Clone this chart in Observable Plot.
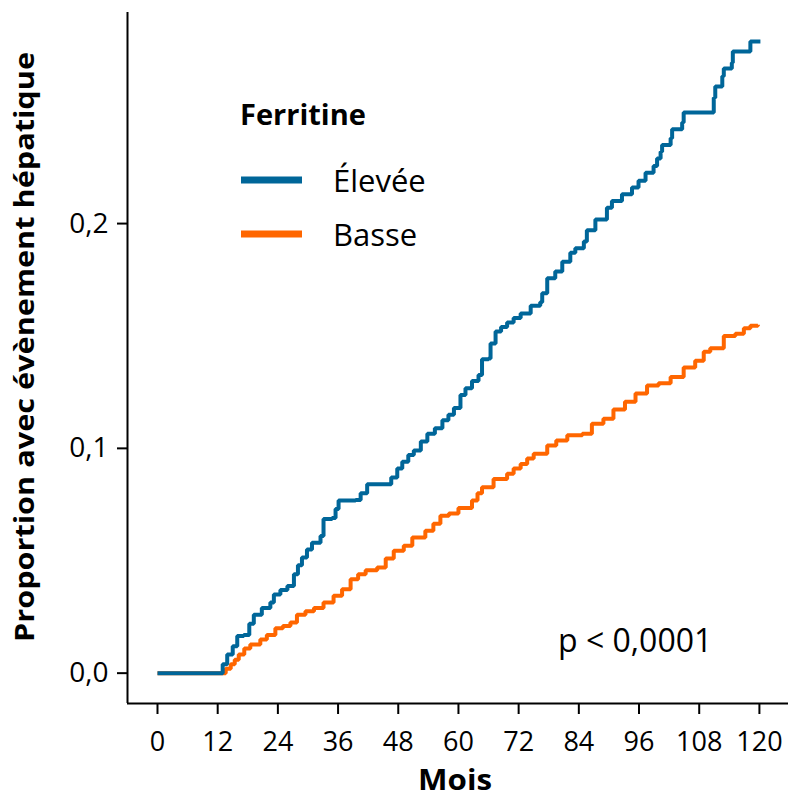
<!DOCTYPE html>
<html>
<head>
<meta charset="utf-8">
<script src="https://cdn.jsdelivr.net/npm/d3@7"></script>
<script src="https://cdn.jsdelivr.net/npm/@observablehq/plot@0.6"></script>
<style>
  html, body { margin: 0; padding: 0; background: #ffffff; }
  #chart { width: 788px; height: 799px; }
</style>
</head>
<body>
<div id="chart"></div>
<script>
// ---- Data ----
const seriesNames = ["Élevée", "Basse"];
const seriesColors = ["#006699", "#ff6600"];

const eleveeMonths = [0, 12.2, 13.0, 13.9, 15.0, 15.9, 17.2, 18.3, 19.2, 20.8, 22.5, 23.2, 24.5, 25.9, 27.2, 28.0, 28.8, 29.8, 30.8, 32.5, 33.1, 34.8, 35.5, 36.1, 39.5, 40.5, 41.8, 46.6, 47.8, 48.8, 50.0, 51.1, 52.5, 53.8, 55.3, 56.8, 58.0, 59.1, 60.4, 61.4, 62.7, 64.0, 64.7, 66.0, 66.4, 67.4, 68.5, 69.7, 71.0, 72.4, 74.4, 76.3, 76.7, 77.7, 79.3, 80.7, 82.3, 83.3, 85.0, 85.6, 87.3, 89.6, 90.6, 92.6, 94.6, 95.9, 97.3, 98.9, 99.6, 100.3, 100.6, 102.3, 102.6, 104.6, 104.9, 110.9, 111.2, 112.6, 112.9, 114.5, 114.7, 118.2, 120.2];
const eleveeValues = [0, 0, 0.004, 0.0083, 0.012, 0.0165, 0.017, 0.022, 0.026, 0.029, 0.0314, 0.035, 0.037, 0.0388, 0.044, 0.048, 0.0515, 0.055, 0.058, 0.061, 0.0686, 0.069, 0.073, 0.0768, 0.077, 0.080, 0.084, 0.087, 0.091, 0.094, 0.097, 0.099, 0.103, 0.1065, 0.109, 0.1125, 0.115, 0.118, 0.1237, 0.1267, 0.130, 0.1326, 0.1396, 0.140, 0.1467, 0.152, 0.154, 0.156, 0.158, 0.160, 0.1634, 0.165, 0.169, 0.1757, 0.1787, 0.183, 0.187, 0.189, 0.192, 0.197, 0.2018, 0.207, 0.210, 0.213, 0.216, 0.219, 0.2226, 0.2256, 0.229, 0.232, 0.235, 0.238, 0.242, 0.245, 0.2494, 0.256, 0.261, 0.2655, 0.269, 0.2716, 0.2765, 0.281, 0.281];

const basseMonths = [0, 12.6, 13.6, 14.6, 15.4, 16.2, 17.3, 18.5, 20.5, 21.8, 23.5, 25.0, 26.5, 27.8, 29.5, 31.2, 33.1, 35.1, 36.8, 38.5, 40.0, 41.5, 43.8, 45.5, 47.1, 49.1, 50.8, 53.4, 55.0, 56.4, 58.1, 60.0, 62.7, 63.8, 64.7, 67.0, 69.7, 71.0, 72.4, 73.7, 75.0, 77.7, 79.5, 81.7, 84.7, 86.6, 88.9, 90.9, 93.2, 95.3, 97.6, 99.9, 102.3, 104.9, 107.2, 108.9, 110.2, 112.9, 115.2, 116.9, 118.2, 119.7];
const basseValues = [0, 0, 0.002, 0.004, 0.006, 0.0083, 0.011, 0.0128, 0.015, 0.017, 0.020, 0.021, 0.0225, 0.026, 0.0275, 0.029, 0.0314, 0.0344, 0.0373, 0.0418, 0.044, 0.0458, 0.047, 0.051, 0.0545, 0.0567, 0.0604, 0.0634, 0.0665, 0.070, 0.071, 0.0735, 0.0768, 0.080, 0.0827, 0.0864, 0.0887, 0.091, 0.0931, 0.0955, 0.0976, 0.1013, 0.1035, 0.1058, 0.1065, 0.111, 0.1132, 0.1173, 0.1207, 0.1244, 0.128, 0.129, 0.1318, 0.136, 0.139, 0.143, 0.1445, 0.150, 0.151, 0.1534, 0.1546, 0.155];

const xTicks = [0, 12, 24, 36, 48, 60, 72, 84, 96, 108, 120];
const yTicks = [0, 0.1, 0.2];
const xDomain = [-5.98, 125.8];
const yDomain = [-0.0135, 0.2939];

const legendTitle = "Ferritine";
const xTitle = "Mois";
const yTitle = "Proportion avec évènement hépatique";
const pText = "p < 0,0001";

// ---- Build tables ----
const elevee = eleveeMonths.map((m, i) => ({month: m, value: eleveeValues[i], group: seriesNames[0]}));
const basse = basseMonths.map((m, i) => ({month: m, value: basseValues[i], group: seriesNames[1]}));

const W = 788, H = 799;
const mL = 127, mR = 0, mT = 12, mB = 96;

const chart = Plot.plot({
  width: W,
  height: H,
  marginLeft: mL,
  marginRight: mR,
  marginTop: mT,
  marginBottom: mB,
  style: {fontFamily: "'Open Sans', sans-serif", fontSize: "27px", color: "#000", background: "#fff", overflow: "visible"},
  x: {domain: xDomain},
  y: {domain: yDomain},
  marks: [
    Plot.axisX({ticks: xTicks, tickSize: 11, tickPadding: 17, tickFormat: d => String(d), label: null, strokeWidth: 2, fontSize: 27}),
    Plot.axisY({ticks: yTicks, tickSize: 10, tickPadding: 9, tickFormat: d => d3.format(".1f")(d).replace(".", ","), label: null, strokeWidth: 2, fontSize: 28}),
    Plot.ruleX([xDomain[0]], {stroke: "#000", strokeWidth: 2}),
    Plot.ruleY([yDomain[0]], {stroke: "#000", strokeWidth: 2}),
    Plot.line(basse, {x: "month", y: "value", curve: "step-after", stroke: seriesColors[1], strokeWidth: 4, strokeLinejoin: "miter", strokeLinecap: "butt"}),
    Plot.line(elevee, {x: "month", y: "value", curve: "step-after", stroke: seriesColors[0], strokeWidth: 4, strokeLinejoin: "miter", strokeLinecap: "butt"})
  ]
});

document.getElementById("chart").appendChild(chart);

// ---- Titles, legend and annotation ----
const svg = d3.select(chart);
const g = svg.append("g")
  .attr("font-family", "'Open Sans', sans-serif")
  .attr("fill", "#000")
  .attr("text-anchor", "start");

// x title
g.append("text")
  .attr("x", 455).attr("y", 790)
  .attr("text-anchor", "middle")
  .attr("font-size", 29).attr("font-weight", "bold")
  .attr("textLength", 74).attr("lengthAdjust", "spacingAndGlyphs")
  .text(xTitle);

// y title
g.append("text")
  .attr("transform", "translate(34,347) rotate(-90)")
  .attr("text-anchor", "middle")
  .attr("font-size", 26).attr("font-weight", "bold")
  .attr("textLength", 590).attr("lengthAdjust", "spacingAndGlyphs")
  .text(yTitle);

// legend
g.append("text")
  .attr("x", 240).attr("y", 125)
  .attr("text-anchor", "start")
  .attr("font-size", 29).attr("font-weight", "bold")
  .text(legendTitle);

const legendY = [180, 234];
seriesNames.forEach((name, i) => {
  g.append("line")
    .attr("x1", 241).attr("x2", 302)
    .attr("y1", legendY[i]).attr("y2", legendY[i])
    .attr("stroke", seriesColors[i]).attr("stroke-width", 7);
  g.append("text")
    .attr("x", 333).attr("y", legendY[i] + 12)
    .attr("text-anchor", "start")
    .attr("font-size", 31)
    .text(name);
});

// p-value
g.append("text")
  .attr("x", 558).attr("y", 652)
  .attr("text-anchor", "start")
  .attr("font-size", 32)
  .text(pText);
</script>
</body>
</html>
